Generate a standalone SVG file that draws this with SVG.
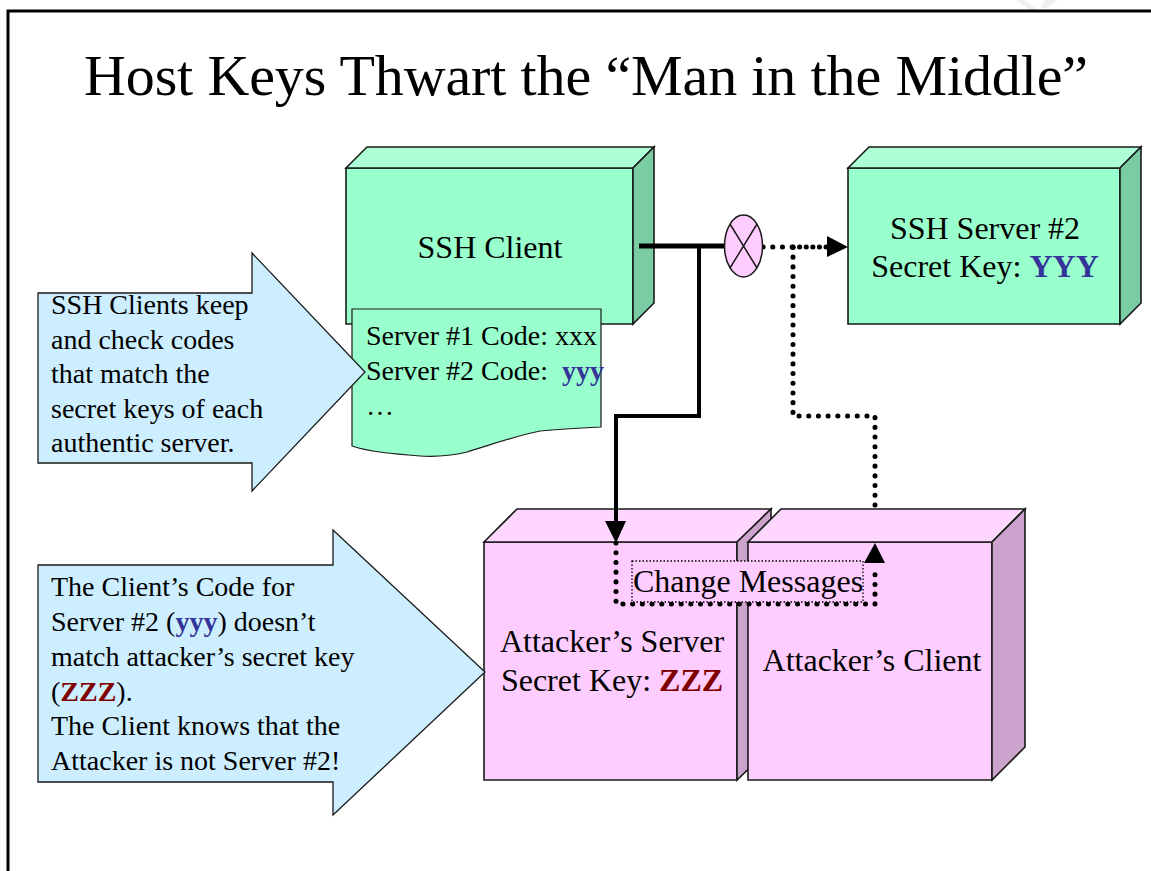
<svg xmlns="http://www.w3.org/2000/svg" width="1151" height="871" viewBox="0 0 1151 871">
<style>
text{font-family:"Liberation Serif","Times New Roman",serif;fill:#000}
.t{font-size:32px}
.s{font-size:28px}
.b{font-weight:bold}
.blue{fill:#333399}
.red{fill:#800000}
.o{stroke:#1a1a1a;stroke-width:1.6;stroke-linejoin:miter}
.gf{fill:#99ffcc}.gt{fill:#adffd6}.gs{fill:#7acca3}
.pf{fill:#ffccff}.pt{fill:#ffd6ff}.ps{fill:#cca3cc}
.arrow{fill:#cceeff;stroke:#1a1a1a;stroke-width:1.3}
.solid{fill:none;stroke:#000;stroke-width:5}
.dot{fill:none;stroke:#000;stroke-width:5;stroke-linecap:round;stroke-dasharray:0.1 9.6}
</style>
<rect width="1151" height="871" fill="#fff"/>
<path id="watermark" d="M1016 0L1030 10L1037 10L1025 0ZM1045 0L1040 8L1047 8L1058 0Z" fill="#f0f0f0"/>
<g id="frame"><path d="M8 871V11H1151" fill="none" stroke="#000" stroke-width="3"/></g>
<text id="title" x="84" y="95" font-size="58" textLength="1004" lengthAdjust="spacing">Host Keys Thwart the “Man in the Middle”</text>
<g id="ssh-client">
<path class="o gf" d="M346 168H633V324H346Z"/>
<path class="o gt" d="M346 168L367 147H654L633 168Z"/>
<path class="o gs" d="M633 168L654 147V303L633 324Z"/>
<text class="t" x="490" y="258" text-anchor="middle">SSH Client</text>
</g>
<g id="code-list">
<path d="M352 309H601V427C580 428 560 429 540 431C515 436 490 445 467 452C450 456 435 457 420 456C395 454 370 452 352 446Z" fill="#99ffcc" stroke="#1a1a1a" stroke-width="1.2"/>
<text class="s" x="366" y="345">Server #1 Code: xxx</text>
<text class="s" x="366" y="380" xml:space="preserve">Server #2 Code:  <tspan class="b blue">yyy</tspan></text>
<text class="s" x="366" y="415">…</text>
</g>
<g id="ssh-server">
<path class="o gf" d="M848 168H1120V324H848Z"/>
<path class="o gt" d="M848 168L869 147H1141L1120 168Z"/>
<path class="o gs" d="M1120 168L1141 147V303L1120 324Z"/>
<text class="t" x="985" y="239" text-anchor="middle">SSH Server #2</text>
<text class="t" x="985" y="277" text-anchor="middle">Secret Key: <tspan class="b blue">YYY</tspan></text>
</g>
<g id="attacker-server">
<path class="o pf" d="M484 542H737V780H484Z"/>
<path class="o pt" d="M484 542L517 509H771L737 542Z"/>
<path class="o ps" d="M737 542L771 509V747L737 780Z"/>
<text class="t" x="612" y="652" text-anchor="middle">Attacker’s Server</text>
<text class="t" x="612" y="691" text-anchor="middle">Secret Key: <tspan class="b red">ZZZ</tspan></text>
</g>
<g id="attacker-client">
<path class="o pf" d="M748 542H992V780H748Z"/>
<path class="o pt" d="M748 542L781 509H1025L992 542Z"/>
<path class="o ps" d="M992 542L1025 509V747L992 780Z"/>
<text class="t" x="872" y="671" text-anchor="middle">Attacker’s Client</text>
</g>
<g id="callout-1">
<path class="arrow" d="M38 293H252V253L365 372L252 491V463H38Z"/>
<text class="s" x="51" y="314">SSH Clients keep</text>
<text class="s" x="51" y="349">and check codes</text>
<text class="s" x="51" y="383">that match the</text>
<text class="s" x="51" y="418">secret keys of each</text>
<text class="s" x="51" y="452">authentic server.</text>
</g>
<g id="callout-2">
<path class="arrow" d="M38 565H333V530L485 672L333 815V782H38Z"/>
<text class="s" x="51" y="596">The Client’s Code for</text>
<text class="s" x="51" y="631">Server #2 (<tspan class="b blue">yyy</tspan>) doesn’t</text>
<text class="s" x="51" y="666">match attacker’s secret key</text>
<text class="s" x="51" y="701">(<tspan class="b red">ZZZ</tspan>).</text>
<text class="s" x="51" y="735">The Client knows that the</text>
<text class="s" x="51" y="770">Attacker is not Server #2!</text>
</g>
<g id="connectors">
<path class="solid" d="M639 246H724"/>
<path class="solid" d="M699 246V416H616V522" style="stroke-width:4"/>
<path d="M605 521H626L616 543Z"/>
<path class="dot" d="M616 543V604H875V572"/>
<path d="M864 563L875 543L885 563Z"/>
<path class="dot" d="M875 505V416H793V246"/>
<path class="dot" d="M763 247H793"/>
<path class="dot" d="M793 247H828" style="stroke-dasharray:0.1 6.5"/>
<path d="M827 236L848 247L827 257Z"/>
</g>
<g id="tap">
<ellipse cx="743.5" cy="246" rx="19" ry="31" fill="#ffccff" stroke="#1a1a1a" stroke-width="1.5"/>
<path d="M730 224L757 268M757 224L730 268" stroke="#1a1a1a" stroke-width="1.5" fill="none"/>
</g>
<g id="change-messages">
<rect x="632" y="561" width="231" height="41" fill="#ffccff" stroke="#000" stroke-width="1.3" stroke-dasharray="1.5 2"/>
<text class="t" x="748" y="592" text-anchor="middle">Change Messages</text>
</g>
</svg>
